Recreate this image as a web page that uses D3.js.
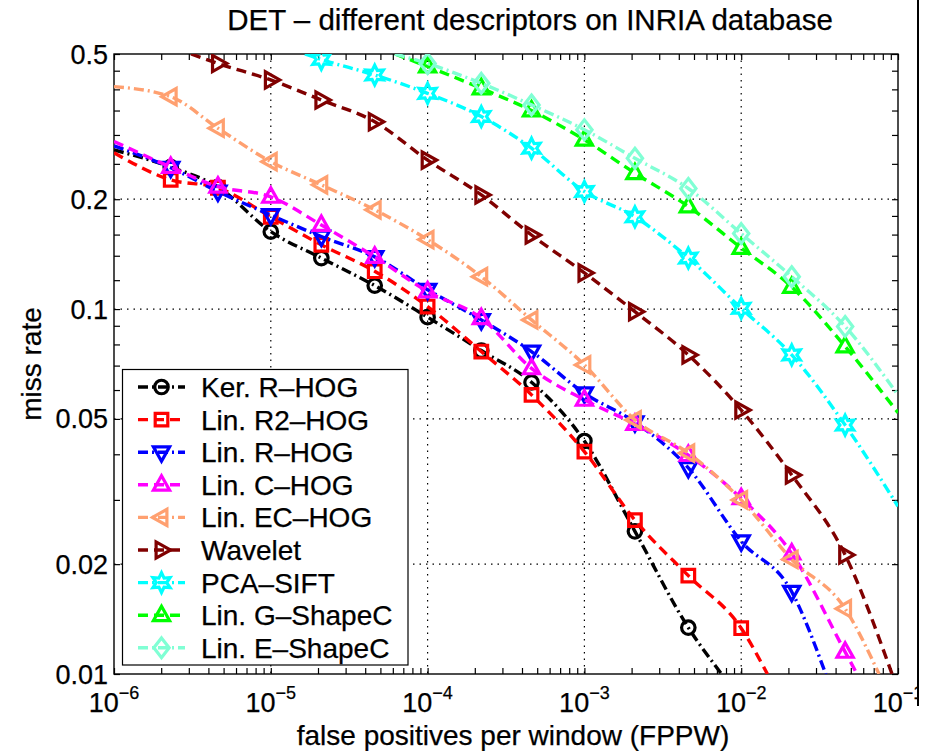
<!DOCTYPE html>
<html>
<head>
<meta charset="utf-8">
<script src="https://cdn.jsdelivr.net/npm/d3@7"></script>
<style>
  body { margin: 0; background: #fff; }
  text { font-family: "Liberation Sans", Arial, Helvetica, sans-serif; fill: #000; stroke: #000; stroke-width: 0.25px; }
</style>
</head>
<body>
<svg id="chart" width="930" height="751"></svg>
<script>
// FPPW positions where the markers sit (shared by every curve)
const fppw = [2.3e-6, 4.6e-6, 1e-5, 2.1e-5, 4.6e-5, 1e-4, 2.2e-4, 4.6e-4, 1e-3, 2.1e-3, 4.6e-3, 1e-2, 2.1e-2, 4.6e-2];

// miss rate per descriptor, null where the curve is outside the plot
const kerRHog   = [0.245, 0.216, 0.163, 0.138, 0.116, 0.095, 0.077, 0.063, 0.0435, 0.0246, 0.0134, null, null, null];
const linR2Hog  = [0.226, 0.215, 0.179, 0.150, 0.127, 0.1016, 0.0765, 0.0582, 0.0407, 0.0264, 0.0186, 0.01335, null, null];
const linRHog   = [0.244, 0.210, 0.181, 0.158, 0.139, 0.113, 0.0934, 0.0765, 0.0588, 0.049, 0.0367, 0.0231, 0.0168, null];
const linCHog   = [0.245, 0.2165, 0.203, 0.170, 0.139, 0.1117, 0.0944, 0.0688, 0.0564, 0.0484, 0.0398, 0.0303, 0.0214, 0.0115];
const linECHog  = [0.382, 0.313, 0.2535, 0.219, 0.187, 0.155, 0.1227, 0.0934, 0.0703, 0.0497, 0.0403, 0.0300, 0.0206, 0.0151];
const wavelet   = [null, 0.471, 0.4245, 0.374, 0.326, 0.256, 0.2055, 0.1596, 0.1256, 0.0984, 0.0749, 0.0529, 0.0351, 0.0212];
const pcaSift   = [null, null, null, 0.483, 0.438, 0.390, 0.337, 0.276, 0.210, 0.179, 0.138, 0.1005, 0.0749, 0.0481];
const linGShape = [null, null, null, null, null, 0.462, 0.4025, 0.35, 0.291, 0.2357, 0.191, 0.147, 0.115, 0.079];
const linEShape = [null, null, null, null, null, 0.471, 0.4155, 0.3626, 0.31, 0.259, 0.214, 0.161, 0.1227, 0.0896];

// where each curve enters and leaves the axes box [fppw, miss rate]
const curveStart = [[1e-6, 0.273], [1e-6, 0.268], [1e-6, 0.280], [1e-6, 0.288], [1e-6, 0.407], [3.1e-6, 0.5], [1.65e-5, 0.5], [6.2e-5, 0.5], [6.2e-5, 0.5]];
const curveEnd   = [[7.5e-3, 0.01], [1.47e-2, 0.01], [3.46e-2, 0.01], [5.48e-2, 0.01], [7.57e-2, 0.01], [9.16e-2, 0.01], [0.1, 0.0288], [0.1, 0.052], [0.1, 0.0582]];

const names = ["Ker. R\u2013HOG", "Lin. R2\u2013HOG", "Lin. R\u2013HOG", "Lin. C\u2013HOG", "Lin. EC\u2013HOG", "Wavelet", "PCA\u2013SIFT", "Lin. G\u2013ShapeC", "Lin. E\u2013ShapeC"];
const colors = ["#000000", "#ff0000", "#0000ff", "#ff00ff", "#ffa070", "#800000", "#00ffff", "#00ff00", "#80ffd4"];
const dashes = ["10,4,2,4", "10,6", "10,4,2,4", "10,6", "10,4,2,4", "10,6", "10,4,2,4", "10,6", "10,4,2,4"];
const markers = ["circle", "square", "down", "up", "left", "right", "hexagram", "up", "diamond"];

const yTicks = [0.01, 0.02, 0.05, 0.1, 0.2, 0.5];
const yTickLabels = ["0.01", "0.02", "0.05", "0.1", "0.2", "0.5"];
const yMinor = [0.03, 0.04, 0.06, 0.07, 0.08, 0.09, 0.12, 0.14, 0.16, 0.18, 0.25, 0.3, 0.35, 0.4, 0.45];
const xTicks = [1e-6, 1e-5, 1e-4, 1e-3, 1e-2, 1e-1];
const xExponents = ["\u22126", "\u22125", "\u22124", "\u22123", "\u22122", "\u22121"];

const pl = 114, pr = 898, pt = 54, pb = 674;

const svg = d3.select('#chart');
const x = d3.scaleLog().domain([1e-6, 1e-1]).range([pl, pr]);
const y = d3.scaleLog().domain([0.01, 0.5]).range([pb, pt]);

// grid
const grid = svg.append('g').attr('stroke', '#000').attr('stroke-width', 1.2).attr('stroke-dasharray', '1.5,5');
grid.selectAll('.gx').data(xTicks.slice(1, -1)).enter().append('line')
    .attr('x1', d => x(d)).attr('x2', d => x(d)).attr('y1', pt).attr('y2', pb);
grid.selectAll('.gy').data(yTicks.slice(1, -1)).enter().append('line')
    .attr('y1', d => y(d)).attr('y2', d => y(d)).attr('x1', pl).attr('x2', pr);

// ticks (inward, on all four sides)
const xMinor = x.ticks().filter(t => xTicks.indexOf(t) < 0);
const allX = xTicks.concat(xMinor);
const allY = yTicks.concat(yMinor);
function ticks(axis, tr) {
    const g = svg.append('g').attr('transform', tr).call(axis);
    g.select('.domain').remove();
    g.selectAll('line').attr('stroke', '#000').attr('stroke-width', 1.2);
    g.selectAll('text').remove();
}
ticks(d3.axisBottom(x).tickValues(allX).tickSize(-6).tickFormat(''), `translate(0,${pb})`);
ticks(d3.axisTop(x).tickValues(allX).tickSize(-6).tickFormat(''), `translate(0,${pt})`);
ticks(d3.axisLeft(y).tickValues(allY).tickSize(-6).tickFormat(''), `translate(${pl},0)`);
ticks(d3.axisRight(y).tickValues(allY).tickSize(-6).tickFormat(''), `translate(${pr},0)`);

svg.append('rect').attr('x', pl).attr('y', pt).attr('width', pr - pl).attr('height', pb - pt)
    .attr('fill', 'none').attr('stroke', '#000').attr('stroke-width', 1.4);

// tick labels
svg.selectAll('.ylab').data(yTicks).enter().append('text')
    .attr('x', 108).attr('y', d => y(d) + 9.5)
    .attr('text-anchor', 'end').attr('font-size', 27)
    .text((d, i) => yTickLabels[i]);

const xl = svg.selectAll('.xlab').data(xTicks).enter().append('text')
    .attr('x', d => x(d)).attr('y', 712)
    .attr('text-anchor', 'middle').attr('font-size', 27);
xl.append('tspan').text('10');
xl.append('tspan').attr('dy', -13).attr('font-size', 18).text((d, i) => xExponents[i]);

svg.append('text').attr('x', 513).attr('y', 745).attr('text-anchor', 'middle').attr('font-size', 28)
    .text('false positives per window (FPPW)');
svg.append('text').attr('transform', 'translate(41,364) rotate(-90)').attr('text-anchor', 'middle').attr('font-size', 28)
    .text('miss rate');
svg.append('text').attr('x', 530).attr('y', 30).attr('text-anchor', 'middle').attr('font-size', 29.5)
    .text('DET \u2013 different descriptors on INRIA database');

// marker shapes
function markerPath(type, s) {
    const p = d3.path();
    if (type === 'circle') { p.arc(0, 0, s * 0.75, 0, 2 * Math.PI); }
    else if (type === 'square') { p.rect(-s * 0.7, -s * 0.7, s * 1.4, s * 1.4); }
    else if (type === 'diamond') { p.moveTo(0, -s * 1.1); p.lineTo(s * 0.85, 0); p.lineTo(0, s * 1.1); p.lineTo(-s * 0.85, 0); p.closePath(); }
    else if (type === 'hexagram') {
        const r1 = s * 1.1, r2 = s * 0.58;
        for (let k = 0; k < 12; k++) {
            const a = -Math.PI / 2 + k * Math.PI / 6, r = k % 2 ? r2 : r1;
            k ? p.lineTo(r * Math.cos(a), r * Math.sin(a)) : p.moveTo(r * Math.cos(a), r * Math.sin(a));
        }
        p.closePath();
    } else {
        const rot = { up: 0, right: 90, down: 180, left: 270 }[type] * Math.PI / 180;
        const pts = [[0, -s], [s * 0.9, s * 0.6], [-s * 0.9, s * 0.6]].map(([a, b]) =>
            [a * Math.cos(rot) - b * Math.sin(rot), a * Math.sin(rot) + b * Math.cos(rot)]);
        p.moveTo(pts[0][0], pts[0][1]); p.lineTo(pts[1][0], pts[1][1]); p.lineTo(pts[2][0], pts[2][1]); p.closePath();
    }
    return p.toString();
}

const series = [kerRHog, linR2Hog, linRHog, linCHog, linECHog, wavelet, pcaSift, linGShape, linEShape].map((vals, i) => {
    const pts = fppw.map((f, j) => [f, vals[j]]).filter(d => d[1] != null);
    return { name: names[i], color: colors[i], dash: dashes[i], marker: markers[i], markerPts: pts,
             linePts: [curveStart[i]].concat(pts, [curveEnd[i]]) };
});

svg.append('clipPath').attr('id', 'plotclip').append('rect')
    .attr('x', pl).attr('y', pt).attr('width', pr - pl).attr('height', pb - pt);

const plot = svg.append('g').attr('clip-path', 'url(#plotclip)');
const line = d3.line().x(d => x(d[0])).y(d => y(d[1])).curve(d3.curveMonotoneX);

series.forEach(s => {
    const g = plot.append('g');
    g.append('path').datum(s.linePts).attr('d', line)
        .attr('fill', 'none').attr('stroke', s.color).attr('stroke-width', 3.4).attr('stroke-dasharray', s.dash);
    g.selectAll('.m').data(s.markerPts).enter().append('path')
        .attr('transform', d => `translate(${x(d[0])},${y(d[1])})`)
        .attr('d', markerPath(s.marker, 9))
        .attr('fill', 'none').attr('stroke', s.color).attr('stroke-width', 3.2);
});

// legend
const lg = svg.append('g');
lg.append('rect').attr('x', 122.5).attr('y', 369.5).attr('width', 285.5).attr('height', 295.5)
    .attr('fill', '#fff').attr('stroke', '#000').attr('stroke-width', 1.2);
series.forEach((s, i) => {
    const cy = 387 + i * 32.6;
    lg.append('line').attr('x1', 138).attr('x2', 185).attr('y1', cy).attr('y2', cy)
        .attr('stroke', s.color).attr('stroke-width', 3.4).attr('stroke-dasharray', s.dash);
    lg.append('path').attr('transform', `translate(161.5,${cy})`).attr('d', markerPath(s.marker, 9))
        .attr('fill', 'none').attr('stroke', s.color).attr('stroke-width', 3.2);
    lg.append('text').attr('x', 201).attr('y', cy + 10).attr('font-size', 28).text(s.name);
});

// the figure is cut at its right edge
svg.append('rect').attr('x', 919).attr('y', 0).attr('width', 11).attr('height', 751).attr('fill', '#fff');
svg.append('line').attr('x1', 918).attr('x2', 918).attr('y1', 0).attr('y2', 706)
    .attr('stroke', '#000').attr('stroke-width', 2);
</script>
</body>
</html>
